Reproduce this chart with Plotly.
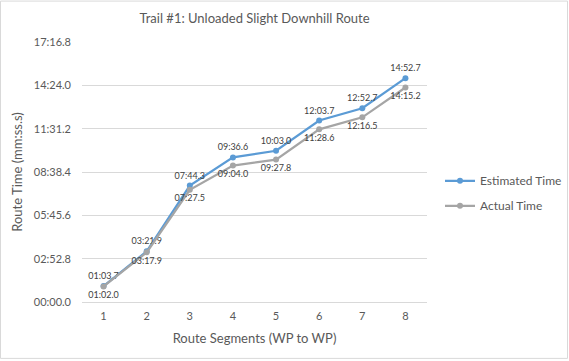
import plotly.graph_objects as go

segments = [1, 2, 3, 4, 5, 6, 7, 8]
estimated_labels = ["01:03.7", "03:21.9", "07:44.3", "09:36.6", "10:03.0", "12:03.7", "12:52.7", "14:52.7"]
actual_labels = ["01:02.0", "03:17.9", "07:27.5", "09:04.0", "09:27.8", "11:28.6", "12:16.5", "14:15.2"]
y_tick_labels = ["00:00.0", "02:52.8", "05:45.6", "08:38.4", "11:31.2", "14:24.0", "17:16.8"]


def to_seconds(s):
    m, rest = s.split(":")
    return int(m) * 60 + float(rest)


estimated = [to_seconds(s) for s in estimated_labels]
actual = [to_seconds(s) for s in actual_labels]
y_tick_vals = [to_seconds(s) for s in y_tick_labels]

FONT = "Lato, 'Open Sans', sans-serif"
BLUE = "#5B9BD5"
GRAY = "#A5A5A5"

fig = go.Figure()
fig.add_trace(go.Scatter(
    x=segments, y=estimated, name="Estimated Time", mode="lines+markers+text",
    text=estimated_labels, textposition="top center",
    textfont=dict(size=9, color="#404040", family=FONT),
    line=dict(color=BLUE, width=2.25), marker=dict(size=6, color=BLUE),
    legendgroup="a", cliponaxis=False,
))
fig.add_trace(go.Scatter(
    x=segments, y=actual, name="Actual Time", mode="lines+markers+text",
    text=actual_labels, textposition="bottom center",
    textfont=dict(size=9, color="#404040", family=FONT),
    line=dict(color=GRAY, width=2.25), marker=dict(size=6, color=GRAY),
    legendgroup="b", cliponaxis=False,
))

L, R, T, B = 82, 142, 41.5, 59
W, H = 569, 361
pw, ph = W - L - R, H - T - B


def px_x(p):
    return (p - L) / pw


def px_y(p):
    return (H - B - p) / ph


fig.update_layout(
    width=W, height=H,
    margin=dict(l=L, r=R, t=T, b=B, pad=0, autoexpand=False),
    paper_bgcolor="white", plot_bgcolor="white",
    font=dict(family=FONT, color="#595959", size=11),
    title=dict(text="Trail #1: Unloaded Slight Downhill Route", x=0.5, xref="paper",
               xanchor="center", y=1 - 18 / H, yanchor="middle",
               font=dict(size=13, color="#595959", family=FONT)),
    showlegend=True,
    legend=dict(x=px_x(440), y=px_y(166), xanchor="left", yanchor="top",
                font=dict(size=12, color="#595959", family=FONT),
                tracegroupgap=6, bgcolor="rgba(0,0,0,0)"),
    xaxis=dict(range=[0.5, 8.5], tickvals=segments, ticktext=[str(s) for s in segments],
               showgrid=False, zeroline=False, showline=True, linecolor="#D9D9D9",
               linewidth=1, ticks="", ticklabelstandoff=4,
               tickfont=dict(size=11, color="#595959"),
               title=dict(text="Route Segments (WP to WP)", standoff=12,
                          font=dict(size=13, color="#595959"))),
    yaxis=dict(range=[0, 1036.8], tickvals=y_tick_vals, ticktext=y_tick_labels,
               showgrid=True, gridcolor="#D9D9D9", gridwidth=1, zeroline=False,
               showline=False, ticks="", ticklabelstandoff=10,
               tickfont=dict(size=11, color="#595959"),
               title=dict(text="Route Time (mm:ss.s)", standoff=8,
                          font=dict(size=13, color="#595959"))),
    shapes=[dict(type="rect", xref="paper", yref="paper",
                 x0=px_x(0.5), x1=px_x(567.5), y0=px_y(358.5), y1=px_y(0.5),
                 line=dict(color="#D9D9D9", width=1), layer="below")],
)

fig.write_html("out.html", config={"displayModeBar": False},
               post_script="document.body.style.margin='0';document.body.style.overflow='hidden';")
